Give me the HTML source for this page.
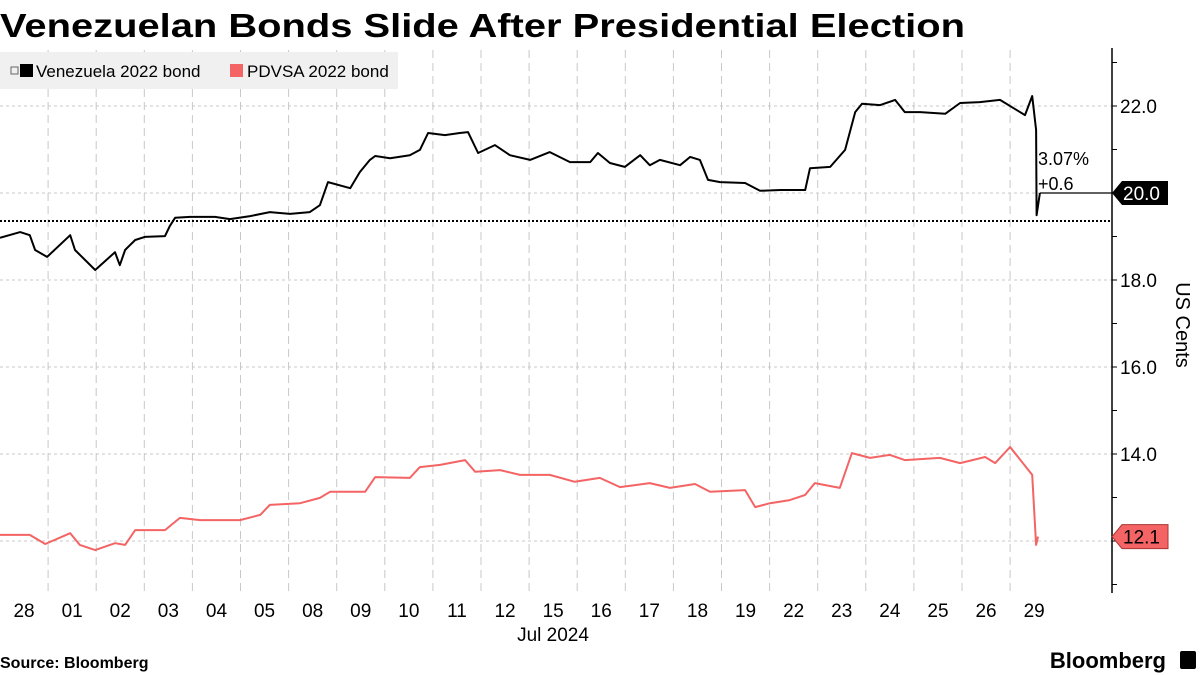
<!DOCTYPE html>
<html><head><meta charset="utf-8"><style>
html,body{margin:0;padding:0;background:#fff;}
svg{display:block;font-family:"Liberation Sans",sans-serif;}
</style></head><body>
<svg id="c" width="1200" height="675" viewBox="0 0 1200 675">
<text x="0" y="37" font-size="33" font-weight="bold" textLength="965" lengthAdjust="spacingAndGlyphs">Venezuelan Bonds Slide After Presidential Election</text>
<g id="grid"></g>
<line x1="0" x2="1112" y1="221" y2="221" stroke="#000" stroke-width="2" stroke-dasharray="2,2"/>
<g id="series"></g>
<g id="axis"></g>
<rect x="0" y="52" width="398" height="37" fill="#f0f0f0"/>
<rect x="11" y="67" width="7" height="7" fill="none" stroke="#666" stroke-width="1"/>
<rect x="20" y="64" width="13" height="13" fill="#000"/>
<text x="36" y="77" font-size="17">Venezuela 2022 bond</text>
<rect x="230" y="64" width="13" height="13" fill="#f46464"/>
<text x="247" y="77" font-size="17">PDVSA 2022 bond</text>
<text x="1038" y="165" font-size="18">3.07%</text>
<text x="1038" y="190" font-size="18">+0.6</text>
<text x="553" y="641" font-size="19" text-anchor="middle">Jul 2024</text>
<text transform="translate(1176,325) rotate(90)" font-size="20" text-anchor="middle">US Cents</text>
<text x="0" y="668" font-size="16" font-weight="bold">Source: Bloomberg</text>
<text x="1166" y="668" font-size="22" font-weight="bold" text-anchor="end">Bloomberg</text>
<rect x="1180" y="651" width="16" height="18" rx="2" fill="#000"/>
</svg>
<script>
const xLabels=["28","01","02","03","04","05","08","09","10","11","12","15","16","17","18","19","22","23","24","25","26","29"];
const yTicks=[12,14,16,18,20,22];
const vzT=[0,.42,.62,.73,.98,1.46,1.56,1.98,2.39,2.49,2.6,2.7,2.81,3.01,3.43,3.53,3.64,3.95,4.16,4.47,4.78,5.2,5.61,6.03,6.44,6.65,6.82,7.28,7.48,7.69,7.8,8.11,8.52,8.73,8.9,9.25,9.56,9.73,9.94,10.29,10.6,11.02,11.43,11.85,12.27,12.43,12.68,12.99,13.31,13.51,13.72,14.14,14.35,14.55,14.72,14.97,15.49,15.8,16.22,16.74,16.84,17.26,17.57,17.78,17.92,18.3,18.61,18.81,19.13,19.65,19.96,20.37,20.79,21.31,21.46,21.54,21.55,21.62];
const vzV=[18.97,19.10,19.03,18.69,18.53,19.03,18.69,18.23,18.64,18.34,18.69,18.80,18.92,18.99,19.01,19.24,19.43,19.45,19.45,19.45,19.40,19.47,19.56,19.52,19.56,19.72,20.25,20.11,20.48,20.76,20.85,20.80,20.87,20.99,21.38,21.33,21.38,21.40,20.92,21.10,20.87,20.76,20.94,20.71,20.71,20.92,20.69,20.60,20.87,20.64,20.76,20.64,20.83,20.76,20.30,20.25,20.23,20.05,20.07,20.07,20.57,20.60,20.99,21.86,22.05,22.02,22.14,21.86,21.86,21.82,22.07,22.09,22.14,21.79,22.23,21.45,19.49,20.0];
const pdT=[0,.62,.94,1.46,1.66,1.98,2.39,2.6,2.81,3.43,3.74,4.16,4.99,5.41,5.61,6.24,6.65,6.86,7.59,7.8,8.52,8.73,9.15,9.67,9.88,10.4,10.81,11.43,11.95,12.47,12.89,13.51,13.93,14.45,14.76,15.49,15.7,16.01,16.42,16.74,16.94,17.46,17.71,18.09,18.5,18.81,19.54,19.96,20.48,20.69,21.0,21.46,21.54,21.58];
const pdV=[12.14,12.14,11.93,12.18,11.91,11.79,11.95,11.91,12.25,12.25,12.53,12.48,12.48,12.6,12.83,12.87,12.99,13.13,13.13,13.47,13.45,13.7,13.75,13.86,13.59,13.63,13.52,13.52,13.36,13.45,13.24,13.33,13.22,13.31,13.13,13.17,12.78,12.87,12.94,13.06,13.33,13.22,14.02,13.91,13.98,13.86,13.91,13.79,13.93,13.79,14.16,13.52,11.91,12.1];
const NS="http://www.w3.org/2000/svg";
const AX=1112, DAY=48.1;
const X=t=>t*DAY;
const Y=v=>541-(v-12)*43.5;
function mk(tag,attrs,parent){const e=document.createElementNS(NS,tag);for(const k in attrs)e.setAttribute(k,attrs[k]);parent.appendChild(e);return e;}
const grid=document.getElementById('grid'),axis=document.getElementById('axis'),ser=document.getElementById('series'),svg=document.getElementById('c');
yTicks.forEach(v=>{
  const l=mk('line',{x1:0,x2:AX,y1:Y(v),y2:Y(v),stroke:'#c8c8c8','stroke-width':1,'stroke-dasharray':'3,3'},grid);
  
  
});
for(let k=1;k<xLabels.length;k++){
  const l=mk('line',{x1:X(k),x2:X(k),y1:50,y2:593,stroke:'#c8c8c8','stroke-width':1,'stroke-dasharray':'8,5'},grid);
  
  
}
xLabels.forEach((s,i)=>{
  const t=mk('text',{x:X(i+0.5),y:617,'font-size':19,'text-anchor':'middle'},svg);
  t.textContent=s;
  
  
});
mk('line',{x1:AX,x2:AX,y1:48,y2:593,stroke:'#000','stroke-width':1.5},axis);
for(let v=11;v<=23;v++){
  if(Y(v)<48||Y(v)>593)continue;
  mk('line',{x1:AX,x2:AX+5,y1:Y(v),y2:Y(v),stroke:'#000','stroke-width':1},axis);
}
yTicks.forEach(v=>{
  if(v===12||v===20)return;
  const t=mk('text',{x:AX+8,y:Y(v)+7,'font-size':19},axis);
  t.textContent=v.toFixed(1);
  
  
});
function line(T,V,color,name){
  const d=T.map((t,i)=>(i?'L':'M')+X(t).toFixed(1)+','+Y(V[i]).toFixed(1)).join('');
  const p=mk('path',{d:d,fill:'none',stroke:color,'stroke-width':2,'stroke-linejoin':'round'},ser);
  
  
}
line(pdT,pdV,'#f46464','pdvsa-line');
line(vzT,vzV,'#000','venezuela-line');
const lastV=vzV[vzV.length-1], lastP=pdV[pdV.length-1];
const ld=mk('line',{x1:X(vzT[vzT.length-1]),x2:AX,y1:Y(lastV),y2:Y(lastV),stroke:'#000','stroke-width':1.2},ser);


function tag(v,bg,fg,name){
  const y=Y(v);
  const g=mk('g',{},svg);
  
  
  mk('path',{d:`M${AX},${y} L${AX+10},${y-12} H${AX+56} V${y+12} H${AX+10} Z`,fill:bg,stroke:bg==='#000'?'none':'#a33','stroke-width':1},g);
  const t=mk('text',{x:AX+11,y:y+7,'font-size':19,fill:fg},g);
  t.textContent=v.toFixed(1);
}
tag(lastV,'#000','#fff','last-value-tag-venezuela');
tag(lastP,'#f46464','#000','last-value-tag-pdvsa');
</script>
</body></html>
